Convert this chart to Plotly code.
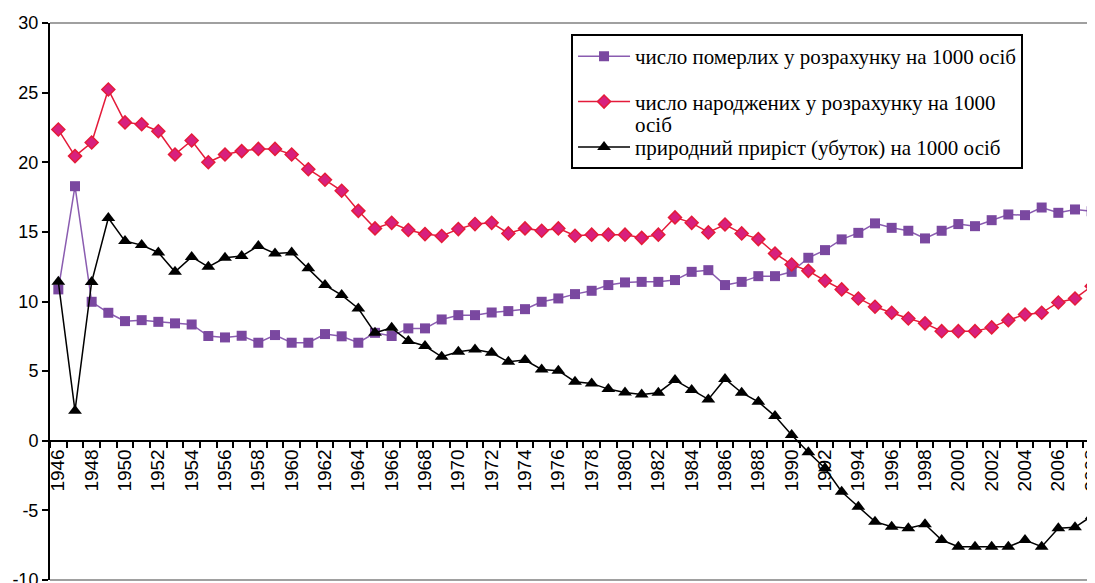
import plotly.graph_objects as go

years = list(range(1946, 2009))

deaths = [10.87, 18.28, 9.98, 9.19, 8.59, 8.66, 8.54, 8.43, 8.35, 7.52,
          7.42, 7.54, 7.04, 7.59, 7.04, 7.04, 7.66, 7.5, 7.04, 7.75,
          7.52, 8.07, 8.07, 8.71, 9.02, 9.02, 9.21, 9.31, 9.45, 9.98,
          10.22, 10.53, 10.77, 11.18, 11.37, 11.41, 11.41, 11.54, 12.13, 12.25,
          11.18, 11.41, 11.82, 11.82, 12.13, 13.14, 13.69, 14.46, 14.93, 15.61,
          15.29, 15.08, 14.53, 15.08, 15.56, 15.41, 15.84, 16.25, 16.2, 16.75,
          16.37, 16.61, 16.49]

births = [22.35, 20.44, 21.42, 25.22, 22.86, 22.73, 22.23, 20.56, 21.56, 20.0,
          20.56, 20.8, 20.96, 20.96, 20.56, 19.5, 18.74, 17.95, 16.51, 15.25,
          15.65, 15.13, 14.84, 14.7, 15.2, 15.56, 15.65, 14.89, 15.25, 15.08,
          15.25, 14.72, 14.8, 14.8, 14.8, 14.57, 14.8, 16.04, 15.65, 14.96,
          15.53, 14.89, 14.48, 13.45, 12.66, 12.2, 11.49, 10.87, 10.22, 9.62,
          9.19, 8.78, 8.43, 7.87, 7.87, 7.87, 8.14, 8.66, 9.07, 9.19,
          9.93, 10.22, 11.1]

natural = [11.41, 2.15, 11.4, 16.0, 14.34, 14.05, 13.52, 12.13, 13.2, 12.49,
           13.14, 13.26, 13.98, 13.45, 13.52, 12.38, 11.18, 10.46, 9.5, 7.75,
           8.11, 7.16, 6.8, 6.03, 6.39, 6.56, 6.32, 5.67, 5.79, 5.12,
           5.03, 4.24, 4.12, 3.71, 3.47, 3.33, 3.45, 4.36, 3.64, 2.97,
           4.44, 3.45, 2.8, 1.77, 0.41, -0.83, -1.98, -3.66, -4.74, -5.81,
           -6.17, -6.29, -6.0, -7.13, -7.61, -7.61, -7.61, -7.61, -7.13, -7.61,
           -6.29, -6.22, -5.41]

y_tickvals = [-10, -5, 0, 5, 10, 15, 20, 25, 30]
y_ticktext = ["-10", "-5", "0", "5", "10", "15", "20", "25", "30"]

names = [
    "число померлих у розрахунку на 1000 осіб",
    "число народжених у розрахунку на 1000",
    "природний приріст (убуток) на 1000 осіб",
]
name2_cont = "осіб"

fig = go.Figure()
fig.add_trace(go.Scatter(
    x=years, y=deaths, name=names[0], mode="lines+markers", legendgroup="a",
    line=dict(color="#8A5CB0", width=1.5),
    marker=dict(symbol="square", size=10, color="#7A48A0", line=dict(width=0)),
    cliponaxis=False))
fig.add_trace(go.Scatter(
    x=years, y=births, name=names[1], mode="lines+markers", legendgroup="b",
    line=dict(color="#E41B3A", width=1.5),
    marker=dict(symbol="diamond", size=10, color="#D8207E",
                line=dict(color="#E41B3A", width=1.5)),
    cliponaxis=False))
fig.add_trace(go.Scatter(
    x=years, y=natural, name=names[2], mode="lines+markers", legendgroup="c",
    line=dict(color="#000000", width=1.5),
    marker=dict(symbol="triangle-up", size=12, color="#000000", line=dict(width=0)),
    cliponaxis=False))

fig.update_layout(
    width=1087, height=575,
    margin=dict(l=42, r=0, t=15, b=3, autoexpand=False),
    paper_bgcolor="white", plot_bgcolor="white",
    font=dict(family="Liberation Sans", size=18, color="black"),
    showlegend=True,
    legend=dict(
        x=0.4986, y=0.9800, xanchor="left", yanchor="top",
        bordercolor="black", borderwidth=2, bgcolor="white",
        font=dict(family="Liberation Serif", size=21, color="black"),
        tracegroupgap=15, valign="middle", itemwidth=52,
    ),
    xaxis=dict(
        range=[1945.5, 2008.2], anchor="free", position=0.25,
        showline=True, linecolor="black", linewidth=2,
        showgrid=False, zeroline=False, automargin=False,
        tickmode="linear", tick0=1946, dtick=2, ticks="",
        tickangle=-90, tickfont=dict(family="Liberation Sans", size=19),
        ticklabeloverflow="allow",
        minor=dict(ticks="outside", tick0=1945.5, dtick=1, ticklen=6,
                   tickcolor="black", tickwidth=1.5, showgrid=False),
    ),
    yaxis=dict(
        range=[-10, 30], tickmode="array", tickvals=y_tickvals, ticktext=y_ticktext,
        showline=True, linecolor="black", linewidth=2, automargin=False,
        ticks="outside", ticklen=6, tickcolor="black", tickwidth=1.5,
        showgrid=False, zeroline=False, ticklabeloverflow="allow",
        tickfont=dict(family="Liberation Sans", size=18),
    ),
    shapes=[
        dict(type="line", xref="paper", yref="paper", x0=0, x1=1, y0=1, y1=1,
             line=dict(color="#A0A0A0", width=2)),
        dict(type="line", xref="paper", yref="paper", x0=0, x1=1, y0=0, y1=0,
             line=dict(color="#A0A0A0", width=2)),
    ],
    annotations=[
        dict(text=name2_cont, xref="paper", yref="paper", x=0.5579, y=0.8161,
             xanchor="left", yanchor="middle", showarrow=False,
             font=dict(family="Liberation Serif", size=21, color="black")),
    ],
)

fig.write_html("out.html")
